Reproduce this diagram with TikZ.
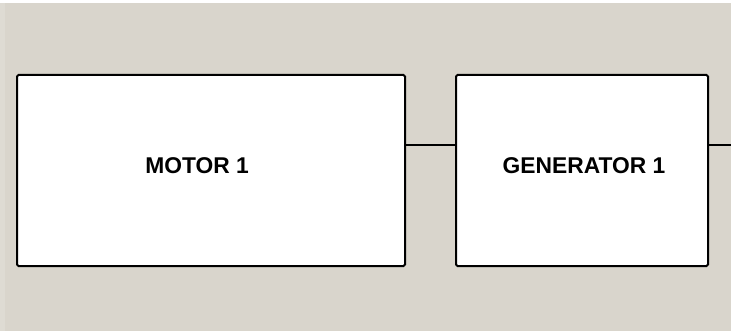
\documentclass[tikz,border=0pt]{standalone}
\usepackage{fontspec}
\setmainfont{Liberation Sans}
\definecolor{bgc}{RGB}{217,213,204}
\begin{document}
\begin{tikzpicture}[x=1pt,y=-1pt,
  blockbox/.style={draw=black,fill=white,line width=2pt,rounded corners=1.5pt},
  lbl/.style={font=\fontsize{22.8}{24}\selectfont\bfseries,inner sep=0pt,anchor=base},
  wire/.style={draw=black,line width=1.3pt}]
\fill[bgc] (0,0) rectangle (731,331);
\useasboundingbox (0,0) rectangle (731,331);
\fill[white] (0,0) rectangle (731,3);
\fill[white,opacity=0.15] (0,3) rectangle (5,331);
\draw[blockbox] (17,75) rectangle (405,266);
\draw[blockbox] (456,75) rectangle (708,266);
\node[minimum width=0pt] (motor) at (211,170.5) {};
\node[minimum width=0pt] (gen) at (582,170.5) {};
\node[lbl] (motorlbl) at (197,173.5) {MOTOR 1};
\node[lbl] (genlbl) at (584,173.5) {GENERATOR 1};
\coordinate (mr) at (405,145);
\coordinate (gl) at (456,145);
\coordinate (gr) at (708,145);
\coordinate (out) at (731,145);
\draw[wire] (mr) -- (gl);
\draw[wire] (gr) -- (out);
\end{tikzpicture}
\end{document}
